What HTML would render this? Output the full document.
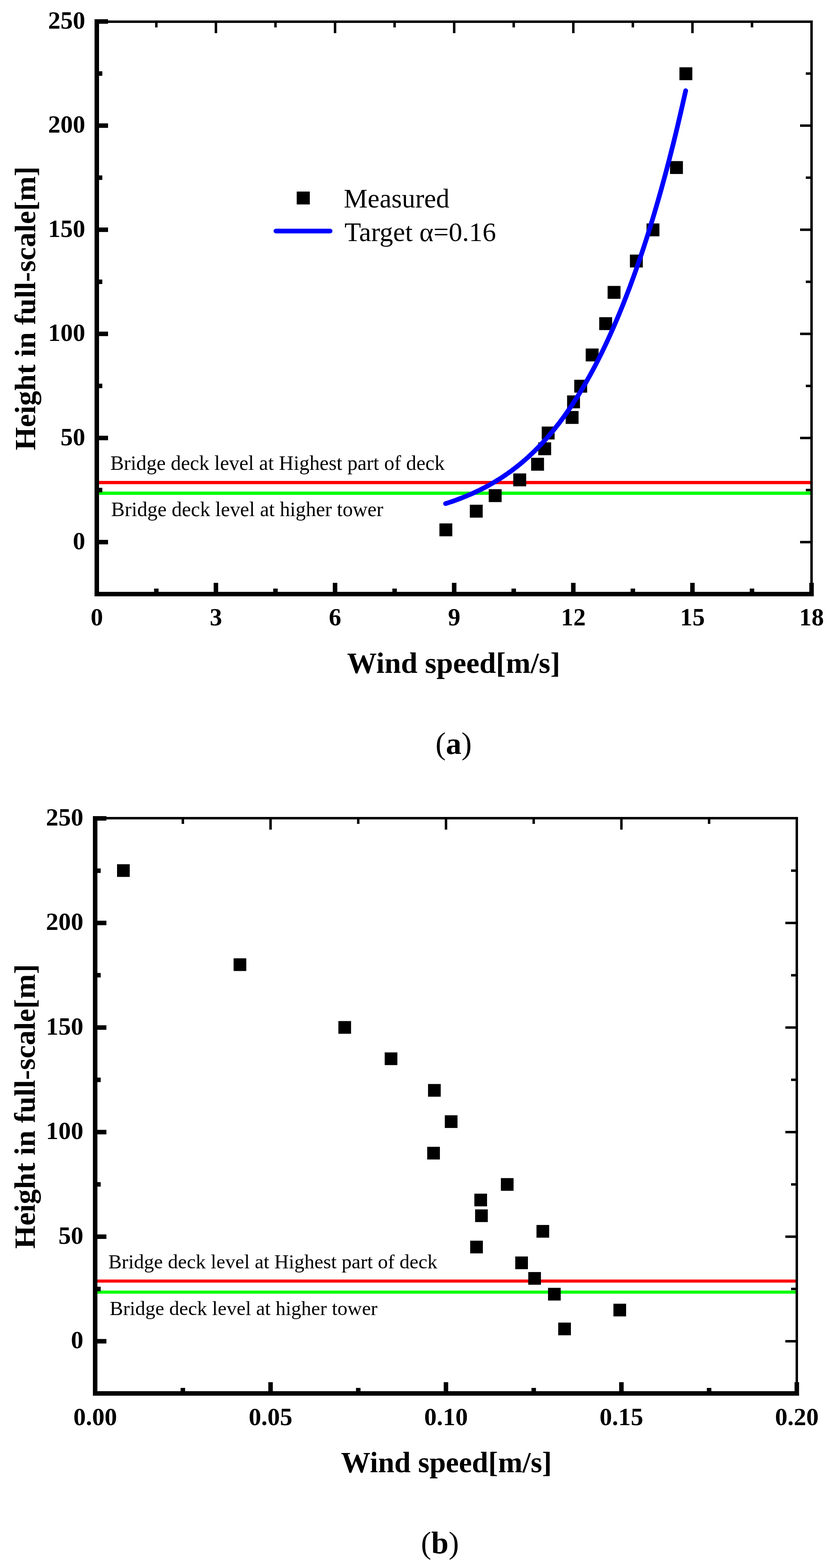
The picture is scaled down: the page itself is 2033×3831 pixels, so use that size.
<!DOCTYPE html>
<html><head><meta charset="utf-8"><title>Wind profile</title>
<style>
html,body{margin:0;padding:0;background:#fff;}
svg{display:block;}
text{font-family:"Liberation Serif","Times New Roman",serif;fill:#000;}
</style></head>
<body>
<svg width="2033" height="3831" viewBox="0 0 2033 3831">
<rect x="0" y="0" width="2033" height="3831" fill="#fff"/>
<rect x="236.5" y="1175.0" width="1746.5" height="8.0" fill="#FF0000"/>
<rect x="236.5" y="1201.0" width="1746.5" height="8.0" fill="#00FF00"/>
<rect x="1073.7" y="1278.8" width="31.5" height="31.5" fill="#000"/>
<rect x="1148.0" y="1233.2" width="31.5" height="31.5" fill="#000"/>
<rect x="1194.2" y="1195.2" width="31.5" height="31.5" fill="#000"/>
<rect x="1254.2" y="1156.7" width="31.5" height="31.5" fill="#000"/>
<rect x="1297.8" y="1118.5" width="31.5" height="31.5" fill="#000"/>
<rect x="1315.2" y="1080.7" width="31.5" height="31.5" fill="#000"/>
<rect x="1323.7" y="1042.2" width="31.5" height="31.5" fill="#000"/>
<rect x="1382.2" y="1004.2" width="31.5" height="31.5" fill="#000"/>
<rect x="1385.7" y="966.1" width="31.5" height="31.5" fill="#000"/>
<rect x="1403.2" y="927.8" width="31.5" height="31.5" fill="#000"/>
<rect x="1431.2" y="851.5" width="31.5" height="31.5" fill="#000"/>
<rect x="1464.2" y="775.0" width="31.5" height="31.5" fill="#000"/>
<rect x="1484.7" y="698.6" width="31.5" height="31.5" fill="#000"/>
<rect x="1539.2" y="622.0" width="31.5" height="31.5" fill="#000"/>
<rect x="1579.8" y="545.9" width="31.5" height="31.5" fill="#000"/>
<rect x="1637.2" y="393.6" width="31.5" height="31.5" fill="#000"/>
<rect x="1660.2" y="164.4" width="31.5" height="31.5" fill="#000"/>
<path d="M1088.7,1230.5 L1096.8,1227.9 L1104.8,1225.2 L1112.7,1222.4 L1120.5,1219.5 L1128.2,1216.6 L1135.8,1213.5 L1143.3,1210.4 L1150.8,1207.2 L1158.1,1203.9 L1165.4,1200.5 L1172.6,1197.1 L1179.7,1193.5 L1186.8,1189.8 L1193.8,1186.0 L1200.7,1182.1 L1207.6,1178.2 L1214.4,1174.0 L1221.2,1169.8 L1227.9,1165.5 L1234.5,1161.0 L1241.1,1156.4 L1247.7,1151.7 L1254.2,1146.9 L1260.7,1141.9 L1267.2,1136.8 L1273.6,1131.5 L1280.0,1126.1 L1286.4,1120.5 L1292.7,1114.8 L1299.0,1108.9 L1305.3,1102.9 L1311.6,1096.7 L1317.8,1090.3 L1324.0,1083.7 L1330.3,1076.9 L1336.5,1070.0 L1342.7,1062.8 L1348.8,1055.5 L1355.0,1048.0 L1361.2,1040.2 L1367.4,1032.2 L1373.5,1024.0 L1379.7,1015.6 L1385.8,1006.9 L1392.0,998.0 L1398.2,988.9 L1404.3,979.4 L1410.5,969.8 L1416.7,959.8 L1422.9,949.6 L1429.1,939.1 L1435.3,928.2 L1441.5,917.1 L1447.7,905.7 L1454.0,894.0 L1460.2,881.9 L1466.5,869.5 L1472.8,856.7 L1479.1,843.6 L1485.4,830.1 L1491.7,816.2 L1498.1,801.9 L1504.4,787.3 L1510.8,772.2 L1517.2,756.7 L1523.6,740.8 L1530.0,724.4 L1536.5,707.6 L1542.9,690.3 L1549.4,672.5 L1555.9,654.2 L1562.4,635.4 L1569.0,616.1 L1575.5,596.2 L1582.1,575.7 L1588.7,554.7 L1595.3,533.1 L1601.9,510.9 L1608.5,488.1 L1615.2,464.7 L1621.8,440.5 L1628.5,415.7 L1635.2,390.2 L1641.9,364.0 L1648.6,337.1 L1655.3,309.4 L1662.0,280.9 L1668.7,251.6 L1675.5,221.5" fill="none" stroke="#0000FF" stroke-width="11.5" stroke-linecap="round" stroke-linejoin="round"/>
<rect x="231.0" y="47.0" width="11.0" height="1410.0" fill="#000"/>
<rect x="231.0" y="1446.0" width="1757.0" height="11.0" fill="#000"/>
<rect x="231.0" y="50.0" width="1755.0" height="6.0" fill="#000"/>
<rect x="1980.0" y="50.0" width="6.0" height="1407.0" fill="#000"/>
<rect x="231.0" y="1319.0" width="33.0" height="11.0" fill="#000"/>
<rect x="1955.0" y="1321.5" width="31.0" height="6.0" fill="#000"/>
<rect x="231.0" y="1191.8" width="19.0" height="11.0" fill="#000"/>
<rect x="1969.0" y="1194.3" width="17.0" height="6.0" fill="#000"/>
<rect x="231.0" y="1064.6" width="33.0" height="11.0" fill="#000"/>
<rect x="1955.0" y="1067.1" width="31.0" height="6.0" fill="#000"/>
<rect x="231.0" y="937.4" width="19.0" height="11.0" fill="#000"/>
<rect x="1969.0" y="939.9" width="17.0" height="6.0" fill="#000"/>
<rect x="231.0" y="810.2" width="33.0" height="11.0" fill="#000"/>
<rect x="1955.0" y="812.7" width="31.0" height="6.0" fill="#000"/>
<rect x="231.0" y="683.0" width="19.0" height="11.0" fill="#000"/>
<rect x="1969.0" y="685.5" width="17.0" height="6.0" fill="#000"/>
<rect x="231.0" y="555.8" width="33.0" height="11.0" fill="#000"/>
<rect x="1955.0" y="558.3" width="31.0" height="6.0" fill="#000"/>
<rect x="231.0" y="428.6" width="19.0" height="11.0" fill="#000"/>
<rect x="1969.0" y="431.1" width="17.0" height="6.0" fill="#000"/>
<rect x="231.0" y="301.4" width="33.0" height="11.0" fill="#000"/>
<rect x="1955.0" y="303.9" width="31.0" height="6.0" fill="#000"/>
<rect x="231.0" y="174.2" width="19.0" height="11.0" fill="#000"/>
<rect x="1969.0" y="176.7" width="17.0" height="6.0" fill="#000"/>
<rect x="231.0" y="47.0" width="33.0" height="11.0" fill="#000"/>
<rect x="231.0" y="1424.0" width="11.0" height="33.0" fill="#000"/>
<rect x="233.5" y="50.0" width="6.0" height="31.0" fill="#000"/>
<rect x="376.5" y="1438.0" width="11.0" height="19.0" fill="#000"/>
<rect x="379.0" y="50.0" width="6.0" height="17.0" fill="#000"/>
<rect x="522.1" y="1424.0" width="11.0" height="33.0" fill="#000"/>
<rect x="524.6" y="50.0" width="6.0" height="31.0" fill="#000"/>
<rect x="667.6" y="1438.0" width="11.0" height="19.0" fill="#000"/>
<rect x="670.1" y="50.0" width="6.0" height="17.0" fill="#000"/>
<rect x="813.2" y="1424.0" width="11.0" height="33.0" fill="#000"/>
<rect x="815.7" y="50.0" width="6.0" height="31.0" fill="#000"/>
<rect x="958.7" y="1438.0" width="11.0" height="19.0" fill="#000"/>
<rect x="961.2" y="50.0" width="6.0" height="17.0" fill="#000"/>
<rect x="1104.3" y="1424.0" width="11.0" height="33.0" fill="#000"/>
<rect x="1106.8" y="50.0" width="6.0" height="31.0" fill="#000"/>
<rect x="1249.8" y="1438.0" width="11.0" height="19.0" fill="#000"/>
<rect x="1252.3" y="50.0" width="6.0" height="17.0" fill="#000"/>
<rect x="1395.4" y="1424.0" width="11.0" height="33.0" fill="#000"/>
<rect x="1397.9" y="50.0" width="6.0" height="31.0" fill="#000"/>
<rect x="1540.9" y="1438.0" width="11.0" height="19.0" fill="#000"/>
<rect x="1543.4" y="50.0" width="6.0" height="17.0" fill="#000"/>
<rect x="1686.5" y="1424.0" width="11.0" height="33.0" fill="#000"/>
<rect x="1689.0" y="50.0" width="6.0" height="31.0" fill="#000"/>
<rect x="1832.0" y="1438.0" width="11.0" height="19.0" fill="#000"/>
<rect x="1834.5" y="50.0" width="6.0" height="17.0" fill="#000"/>
<rect x="1977.5" y="1424.0" width="11.0" height="33.0" fill="#000"/>
<rect x="1980.0" y="50.0" width="6.0" height="31.0" fill="#000"/>
<text x="208.3" y="1342.0" font-size="60.5" font-weight="bold" text-anchor="end">0</text>
<text x="208.3" y="1087.6" font-size="60.5" font-weight="bold" text-anchor="end">50</text>
<text x="208.3" y="833.2" font-size="60.5" font-weight="bold" text-anchor="end">100</text>
<text x="208.3" y="578.8" font-size="60.5" font-weight="bold" text-anchor="end">150</text>
<text x="208.3" y="324.4" font-size="60.5" font-weight="bold" text-anchor="end">200</text>
<text x="208.3" y="70.0" font-size="60.5" font-weight="bold" text-anchor="end">250</text>
<text x="236.5" y="1527.5" font-size="60.5" font-weight="bold" text-anchor="middle">0</text>
<text x="527.6" y="1527.5" font-size="60.5" font-weight="bold" text-anchor="middle">3</text>
<text x="818.7" y="1527.5" font-size="60.5" font-weight="bold" text-anchor="middle">6</text>
<text x="1109.8" y="1527.5" font-size="60.5" font-weight="bold" text-anchor="middle">9</text>
<text x="1400.9" y="1527.5" font-size="60.5" font-weight="bold" text-anchor="middle">12</text>
<text x="1692.0" y="1527.5" font-size="60.5" font-weight="bold" text-anchor="middle">15</text>
<text x="1983.0" y="1527.5" font-size="60.5" font-weight="bold" text-anchor="middle">18</text>
<text x="269.4" y="1147.8" font-size="49.8" font-weight="normal" text-anchor="start">Bridge deck level at Highest part of deck</text>
<text x="271.6" y="1261.3" font-size="49.8" font-weight="normal" text-anchor="start">Bridge deck level at higher tower</text>
<rect x="725.0" y="468.0" width="32.0" height="31.5" fill="#000"/>
<path d="M674.2,564.5 L806.6,564.5" stroke="#0000FF" stroke-width="11.5" stroke-linecap="round"/>
<text x="840.1" y="506.8" font-size="65.5" font-weight="normal" text-anchor="start">Measured</text>
<text x="841.8" y="588.5" font-size="66" font-weight="normal" text-anchor="start">Target α=0.16</text>
<text x="848.0" y="1643.6" font-size="72.6" font-weight="bold" text-anchor="start">Wind speed[m/s]</text>
<text x="85.8" y="1100.1" font-size="72.6" font-weight="bold" text-anchor="start" transform="rotate(-90 85.8 1100.1)">Height in full-scale[m]</text>
<text x="1108.4" y="1841.5" font-size="76" font-weight="normal" text-anchor="middle">(<tspan font-weight="bold">a</tspan>)</text>
<rect x="232.5" y="3126.2" width="1714.5" height="7.5" fill="#FF0000"/>
<rect x="232.5" y="3153.2" width="1714.5" height="7.5" fill="#00FF00"/>
<rect x="286.0" y="2111.5" width="31.0" height="31.0" fill="#000"/>
<rect x="570.8" y="2341.4" width="31.0" height="31.0" fill="#000"/>
<rect x="826.8" y="2494.7" width="31.0" height="31.0" fill="#000"/>
<rect x="940.0" y="2571.3" width="31.0" height="31.0" fill="#000"/>
<rect x="1045.9" y="2648.5" width="31.0" height="31.0" fill="#000"/>
<rect x="1086.9" y="2724.9" width="31.0" height="31.0" fill="#000"/>
<rect x="1043.9" y="2801.9" width="31.0" height="31.0" fill="#000"/>
<rect x="1223.9" y="2878.4" width="31.0" height="31.0" fill="#000"/>
<rect x="1159.1" y="2916.4" width="31.0" height="31.0" fill="#000"/>
<rect x="1160.9" y="2954.8" width="31.0" height="31.0" fill="#000"/>
<rect x="1310.9" y="2992.9" width="31.0" height="31.0" fill="#000"/>
<rect x="1148.9" y="3031.3" width="31.0" height="31.0" fill="#000"/>
<rect x="1259.0" y="3069.9" width="31.0" height="31.0" fill="#000"/>
<rect x="1290.8" y="3107.9" width="31.0" height="31.0" fill="#000"/>
<rect x="1339.1" y="3146.5" width="31.0" height="31.0" fill="#000"/>
<rect x="1498.9" y="3185.3" width="31.0" height="31.0" fill="#000"/>
<rect x="1364.0" y="3231.4" width="31.0" height="31.0" fill="#000"/>
<rect x="227.0" y="1994.0" width="11.0" height="1416.0" fill="#000"/>
<rect x="227.0" y="3399.0" width="1725.0" height="11.0" fill="#000"/>
<rect x="227.0" y="1996.0" width="1723.0" height="6.0" fill="#000"/>
<rect x="1944.0" y="1996.0" width="6.0" height="1414.0" fill="#000"/>
<rect x="227.0" y="3271.5" width="33.0" height="11.0" fill="#000"/>
<rect x="1919.0" y="3274.0" width="31.0" height="6.0" fill="#000"/>
<rect x="227.0" y="3143.8" width="19.0" height="11.0" fill="#000"/>
<rect x="1933.0" y="3146.2" width="17.0" height="6.0" fill="#000"/>
<rect x="227.0" y="3016.0" width="33.0" height="11.0" fill="#000"/>
<rect x="1919.0" y="3018.5" width="31.0" height="6.0" fill="#000"/>
<rect x="227.0" y="2888.2" width="19.0" height="11.0" fill="#000"/>
<rect x="1933.0" y="2890.8" width="17.0" height="6.0" fill="#000"/>
<rect x="227.0" y="2760.5" width="33.0" height="11.0" fill="#000"/>
<rect x="1919.0" y="2763.0" width="31.0" height="6.0" fill="#000"/>
<rect x="227.0" y="2632.8" width="19.0" height="11.0" fill="#000"/>
<rect x="1933.0" y="2635.2" width="17.0" height="6.0" fill="#000"/>
<rect x="227.0" y="2505.0" width="33.0" height="11.0" fill="#000"/>
<rect x="1919.0" y="2507.5" width="31.0" height="6.0" fill="#000"/>
<rect x="227.0" y="2377.2" width="19.0" height="11.0" fill="#000"/>
<rect x="1933.0" y="2379.8" width="17.0" height="6.0" fill="#000"/>
<rect x="227.0" y="2249.5" width="33.0" height="11.0" fill="#000"/>
<rect x="1919.0" y="2252.0" width="31.0" height="6.0" fill="#000"/>
<rect x="227.0" y="2121.8" width="19.0" height="11.0" fill="#000"/>
<rect x="1933.0" y="2124.2" width="17.0" height="6.0" fill="#000"/>
<rect x="227.0" y="1994.0" width="33.0" height="11.0" fill="#000"/>
<rect x="227.0" y="3377.0" width="11.0" height="33.0" fill="#000"/>
<rect x="229.5" y="1996.0" width="6.0" height="31.0" fill="#000"/>
<rect x="441.3" y="3391.0" width="11.0" height="19.0" fill="#000"/>
<rect x="443.8" y="1996.0" width="6.0" height="17.0" fill="#000"/>
<rect x="655.6" y="3377.0" width="11.0" height="33.0" fill="#000"/>
<rect x="658.1" y="1996.0" width="6.0" height="31.0" fill="#000"/>
<rect x="869.9" y="3391.0" width="11.0" height="19.0" fill="#000"/>
<rect x="872.4" y="1996.0" width="6.0" height="17.0" fill="#000"/>
<rect x="1084.2" y="3377.0" width="11.0" height="33.0" fill="#000"/>
<rect x="1086.8" y="1996.0" width="6.0" height="31.0" fill="#000"/>
<rect x="1298.6" y="3391.0" width="11.0" height="19.0" fill="#000"/>
<rect x="1301.1" y="1996.0" width="6.0" height="17.0" fill="#000"/>
<rect x="1512.9" y="3377.0" width="11.0" height="33.0" fill="#000"/>
<rect x="1515.4" y="1996.0" width="6.0" height="31.0" fill="#000"/>
<rect x="1727.2" y="3391.0" width="11.0" height="19.0" fill="#000"/>
<rect x="1729.7" y="1996.0" width="6.0" height="17.0" fill="#000"/>
<rect x="1941.5" y="3377.0" width="11.0" height="33.0" fill="#000"/>
<rect x="1944.0" y="1996.0" width="6.0" height="31.0" fill="#000"/>
<text x="203.7" y="3294.2" font-size="61" font-weight="bold" text-anchor="end">0</text>
<text x="203.7" y="3038.7" font-size="61" font-weight="bold" text-anchor="end">50</text>
<text x="203.7" y="2783.2" font-size="61" font-weight="bold" text-anchor="end">100</text>
<text x="203.7" y="2527.7" font-size="61" font-weight="bold" text-anchor="end">150</text>
<text x="203.7" y="2272.2" font-size="61" font-weight="bold" text-anchor="end">200</text>
<text x="203.7" y="2016.7" font-size="61" font-weight="bold" text-anchor="end">250</text>
<text x="232.5" y="3481.5" font-size="61" font-weight="bold" text-anchor="middle">0.00</text>
<text x="661.1" y="3481.5" font-size="61" font-weight="bold" text-anchor="middle">0.05</text>
<text x="1089.8" y="3481.5" font-size="61" font-weight="bold" text-anchor="middle">0.10</text>
<text x="1518.4" y="3481.5" font-size="61" font-weight="bold" text-anchor="middle">0.15</text>
<text x="1947.0" y="3481.5" font-size="61" font-weight="bold" text-anchor="middle">0.20</text>
<text x="264.7" y="3098.8" font-size="49" font-weight="normal" text-anchor="start">Bridge deck level at Highest part of deck</text>
<text x="268.0" y="3212.9" font-size="49" font-weight="normal" text-anchor="start">Bridge deck level at higher tower</text>
<text x="833.2" y="3596.8" font-size="71.8" font-weight="bold" text-anchor="start">Wind speed[m/s]</text>
<text x="84.7" y="3051.1" font-size="72.8" font-weight="bold" text-anchor="start" transform="rotate(-90 84.7 3051.1)">Height in full-scale[m]</text>
<text x="1075.0" y="3795.0" font-size="76" font-weight="normal" text-anchor="middle">(<tspan font-weight="bold">b</tspan>)</text>
</svg>
</body></html>
